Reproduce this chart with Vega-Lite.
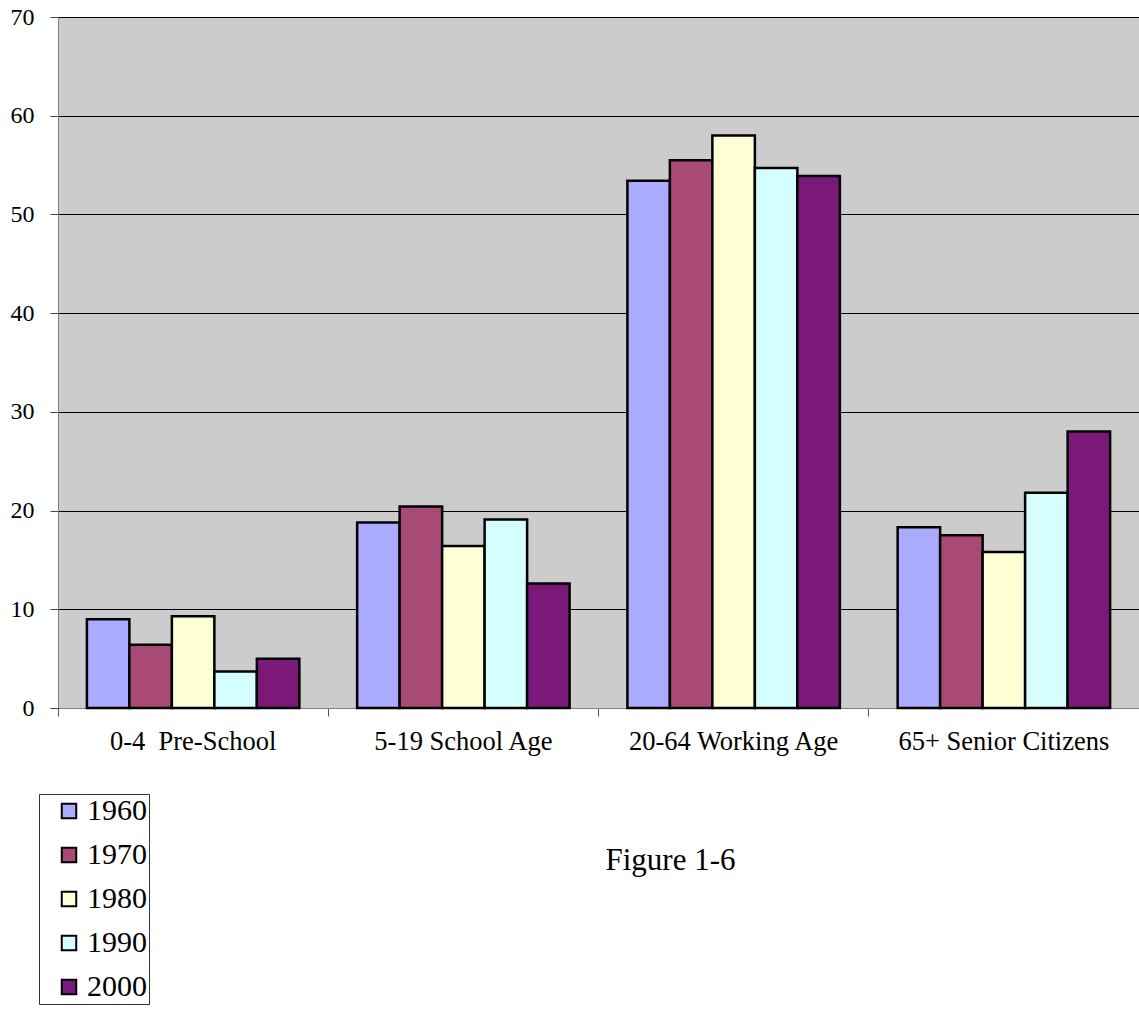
{
  "$schema": "https://vega.github.io/schema/vega-lite/v6.json",
  "width": 1081,
  "height": 691,
  "autosize": {"type": "none"},
  "padding": {"left": 58, "top": 17, "right": 0, "bottom": 307},
  "background": "white",
  "title": {
    "text": "Figure 1-6",
    "orient": "bottom",
    "frame": "group",
    "anchor": "middle",
    "dx": 72,
    "offset": -159,
    "baseline": "top",
    "font": "Liberation Serif, Times New Roman, serif",
    "fontSize": 31,
    "fontWeight": "normal",
    "color": "black"
  },
  "config": {
    "view": {"fill": "#cccccc", "stroke": "#808080", "strokeWidth": 1},
    "font": "Liberation Serif, Times New Roman, serif"
  },
  "data": {
    "values": [
      {"group": "0-4\u00a0 Pre-School", "year": "1960", "pct": 9.0},
      {"group": "0-4\u00a0 Pre-School", "year": "1970", "pct": 6.4},
      {"group": "0-4\u00a0 Pre-School", "year": "1980", "pct": 9.3},
      {"group": "0-4\u00a0 Pre-School", "year": "1990", "pct": 3.7},
      {"group": "0-4\u00a0 Pre-School", "year": "2000", "pct": 5.0},
      {"group": "5-19 School Age", "year": "1960", "pct": 18.8},
      {"group": "5-19 School Age", "year": "1970", "pct": 20.4},
      {"group": "5-19 School Age", "year": "1980", "pct": 16.4},
      {"group": "5-19 School Age", "year": "1990", "pct": 19.1},
      {"group": "5-19 School Age", "year": "2000", "pct": 12.6},
      {"group": "20-64 Working Age", "year": "1960", "pct": 53.4},
      {"group": "20-64 Working Age", "year": "1970", "pct": 55.5},
      {"group": "20-64 Working Age", "year": "1980", "pct": 58.0},
      {"group": "20-64 Working Age", "year": "1990", "pct": 54.7},
      {"group": "20-64 Working Age", "year": "2000", "pct": 53.9},
      {"group": "65+ Senior Citizens", "year": "1960", "pct": 18.3},
      {"group": "65+ Senior Citizens", "year": "1970", "pct": 17.5},
      {"group": "65+ Senior Citizens", "year": "1980", "pct": 15.8},
      {"group": "65+ Senior Citizens", "year": "1990", "pct": 21.8},
      {"group": "65+ Senior Citizens", "year": "2000", "pct": 28.0}
    ]
  },
  "mark": {"type": "bar", "stroke": "black", "strokeWidth": 2.5, "opacity": 1},
  "encoding": {
    "x": {
      "field": "group",
      "type": "nominal",
      "sort": null,
      "scale": {"paddingInner": 0, "paddingOuter": 0},
      "axis": {
        "title": null,
        "labelAngle": 0,
        "labelFont": "Liberation Serif, Times New Roman, serif",
        "labelFontSize": 26.5,
        "labelColor": "black",
        "labelPadding": 12,
        "labelBaseline": "top",
        "labelLimit": 400,
        "bandPosition": 0,
        "tickSize": 8,
        "tickColor": "#555555",
        "domainColor": "#808080",
        "grid": false
      }
    },
    "xOffset": {
      "field": "year",
      "type": "nominal",
      "scale": {"paddingInner": 0, "paddingOuter": 0.68}
    },
    "y": {
      "field": "pct",
      "type": "quantitative",
      "scale": {"domain": [0, 70], "nice": false},
      "axis": {
        "title": null,
        "values": [0, 10, 20, 30, 40, 50, 60, 70],
        "labelFont": "Liberation Serif, Times New Roman, serif",
        "labelFontSize": 24,
        "labelColor": "black",
        "labelPadding": 16,
        "tickSize": 8,
        "tickColor": "#444444",
        "domainColor": "#808080",
        "grid": true,
        "gridColor": "black",
        "gridWidth": 1,
        "gridOpacity": 1
      }
    },
    "color": {
      "field": "year",
      "type": "nominal",
      "scale": {
        "domain": ["1960", "1970", "1980", "1990", "2000"],
        "range": ["#aaaaff", "#a94a76", "#ffffd5", "#d5ffff", "#7b1979"]
      },
      "legend": {
        "title": null,
        "orient": "none",
        "legendX": -19,
        "legendY": 777,
        "fillColor": "white",
        "strokeColor": "#333333",
        "padding": 2,
        "symbolType": "square",
        "symbolSize": 210,
        "symbolOffset": 13,
        "symbolStrokeColor": "black",
        "symbolStrokeWidth": 2,
        "symbolOpacity": 1,
        "labelFont": "Liberation Serif, Times New Roman, serif",
        "labelFontSize": 30,
        "labelColor": "black",
        "labelOffset": 3,
        "rowPadding": 14
      }
    }
  }
}
